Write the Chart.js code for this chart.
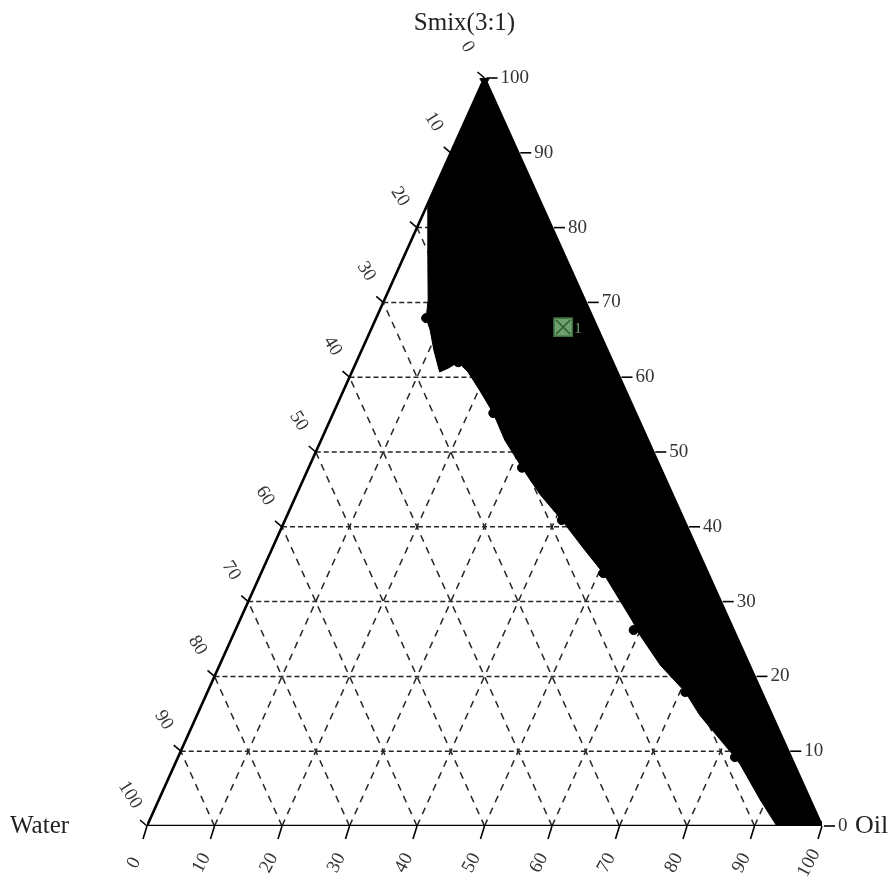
<!DOCTYPE html>
<html>
<head>
<meta charset="utf-8">
<script src="https://cdn.jsdelivr.net/npm/chart.js@4.4.0/dist/chart.umd.min.js"></script>
<style>
  html, body { margin: 0; padding: 0; background: #fff; }
  canvas { display: block; }
</style>
</head>
<body>
<canvas id="ternary" width="888" height="886"></canvas>
<script>
// tick labels on the three sides (percent)
const tickValues = [0, 10, 20, 30, 40, 50, 60, 70, 80, 90, 100];
// dashed grid levels
const gridLevels = [10, 20, 30, 40, 50, 60, 70, 80, 90];

// outline of the black region, as [oil %, smix %] (water = rest)
const regionOil  = [0, 100, 93.3, 89.1, 83.8, 82.5, 74.5, 70.8, 65.3, 60.3, 58.1, 50.7, 46.4, 41.0, 36.1, 31.6, 27.2, 23.7, 20.1, 17.2, 15.1, 14.0, 13.0, 10.7, 8.8, 7.4, 6.5, 3.1, 0, 0];
const regionSmix = [100, 0, 0, 3.5, 8.2, 9.2, 14.8, 17.9, 21.5, 25.5, 27.5, 33.8, 36.9, 40.9, 44.3, 47.9, 51.6, 55.2, 58.3, 60.7, 62.0, 61.2, 60.7, 63.6, 66.3, 67.9, 70.3, 77.0, 83.2, 100];

// measured points on the boundary
const dotOil  = [0, 100, 7.4, 15.1, 23.7, 31.6, 41.0, 50.7, 59.0, 70.8, 82.5];
const dotSmix = [100, 0, 67.9, 62.0, 55.2, 47.9, 40.9, 33.8, 26.2, 17.9, 9.2];

// selected formulation
const pointOil    = [28.3];
const pointSmix   = [66.7];
const pointLabels = ['1'];

// ternary -> plot coordinates (x across the base, y = smix height)
function tern(oil, smix) {
  return { x: oil + smix / 2, y: smix };
}

const gridSets = [];
gridLevels.forEach(v => {
  // constant smix (horizontal)
  gridSets.push({ data: [tern(0, v), tern(100 - v, v)], dash: [5, 3] });
  // constant oil
  gridSets.push({ data: [tern(v, 0), tern(v, 100 - v)], dash: [7, 6] });
  // constant water
  gridSets.push({ data: [tern(100 - v, 0), tern(0, 100 - v)], dash: [7, 6] });
});

const datasets = [];

// formulation marker (square with cross)
datasets.push({
  data: pointOil.map((o, i) => tern(o, pointSmix[i])),
  pointStyle: 'crossRot', pointRadius: 10, borderColor: '#2f5f2f', borderWidth: 1.5,
  showLine: false, order: 0
});
datasets.push({
  data: pointOil.map((o, i) => tern(o, pointSmix[i])),
  pointStyle: 'rect', pointRadius: 13, backgroundColor: '#6fa06f', borderColor: '#3d6e3d', borderWidth: 1.5,
  showLine: false, order: 1
});

// boundary dots
datasets.push({
  data: dotOil.map((o, i) => tern(o, dotSmix[i])),
  pointRadius: 4.5, backgroundColor: '#000', borderColor: '#000',
  showLine: false, order: 2
});

// triangle frame
datasets.push({
  data: [tern(0, 100), tern(0, 0), tern(100, 0), tern(0, 100)],
  showLine: true, borderColor: '#000', borderWidth: 2.6, pointRadius: 0, order: 3
});

// black region
datasets.push({
  data: regionOil.map((o, i) => tern(o, regionSmix[i])),
  showLine: true, fill: 'shape', backgroundColor: '#000', borderColor: '#000',
  borderWidth: 1, pointRadius: 0, tension: 0, order: 4
});

// dashed grid
gridSets.forEach(g => {
  datasets.push({
    data: g.data, showLine: true, borderColor: '#262626', borderWidth: 1.5,
    borderDash: g.dash, pointRadius: 0, order: 5
  });
});

const ternaryLabels = {
  id: 'ternaryLabels',
  afterDraw(chart) {
    const ctx = chart.ctx;
    const xs = chart.scales.x, ys = chart.scales.y;
    const px = (oil, smix) => {
      const p = tern(oil, smix);
      return [xs.getPixelForValue(p.x), ys.getPixelForValue(p.y)];
    };
    ctx.save();
    ctx.strokeStyle = '#000';
    ctx.lineWidth = 1.6;
    ctx.fillStyle = '#333';
    ctx.font = '19px "Liberation Serif", "DejaVu Serif", serif';
    ctx.textAlign = 'center';
    ctx.textBaseline = 'middle';

    tickValues.forEach(v => {
      // left side: water, 0 at top
      let [x, y] = px(0, 100 - v);
      ctx.beginPath(); ctx.moveTo(x, y); ctx.lineTo(x - 7, y - 6); ctx.stroke();
      ctx.save();
      ctx.translate(x - 17, y - 31);
      ctx.rotate(58 * Math.PI / 180);
      ctx.fillText(String(v), 0, 0);
      ctx.restore();

      // bottom: oil, 0 at left
      [x, y] = px(v, 0);
      ctx.beginPath(); ctx.moveTo(x, y); ctx.lineTo(x - 4, y + 13); ctx.stroke();
      ctx.save();
      ctx.translate(x - 13, y + 37);
      ctx.rotate(-62 * Math.PI / 180);
      ctx.fillText(String(v), 0, 0);
      ctx.restore();

      // right side: smix, 0 at bottom
      [x, y] = px(100 - v, v);
      ctx.beginPath(); ctx.moveTo(x + 2, y); ctx.lineTo(x + 13, y); ctx.stroke();
      ctx.textAlign = 'left';
      ctx.fillText(String(v), x + 16, y);
      ctx.textAlign = 'center';
    });

    // formulation label
    ctx.textAlign = 'left';
    ctx.fillStyle = '#6fa06f';
    ctx.font = '15px "Liberation Serif", serif';
    pointOil.forEach((o, i) => {
      const [x, y] = px(o, pointSmix[i]);
      ctx.fillText(pointLabels[i], x + 11, y + 2);
    });

    // vertex names
    ctx.fillStyle = '#222';
    ctx.font = '25px "Liberation Serif", serif';
    let [tx, ty] = px(0, 100);
    ctx.textAlign = 'center';
    ctx.fillText('Smix(3:1)', tx - 20, ty - 55);
    [tx, ty] = px(0, 0);
    ctx.textAlign = 'left';
    ctx.fillText('Water', 10, ty);
    [tx, ty] = px(100, 0);
    ctx.font = '26px "Liberation Serif", serif';
    ctx.fillText('Oil', tx + 33, ty);
    ctx.restore();
  }
};

new Chart(document.getElementById('ternary'), {
  type: 'scatter',
  data: { datasets },
  options: {
    responsive: false,
    animation: false,
    layout: { padding: { left: 147, right: 66, top: 78, bottom: 60 } },
    scales: {
      x: { type: 'linear', min: 0, max: 100, display: false },
      y: { type: 'linear', min: 0, max: 100, display: false }
    },
    plugins: {
      legend: { display: false },
      tooltip: { enabled: false }
    }
  },
  plugins: [ternaryLabels]
});
</script>
</body>
</html>
